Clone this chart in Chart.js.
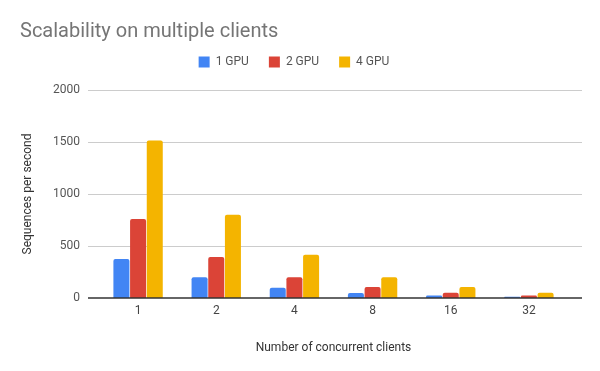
<!DOCTYPE html>
<html>
<head>
<meta charset="utf-8">
<script src="https://cdn.jsdelivr.net/npm/chart.js@4.4.1/dist/chart.umd.min.js"></script>
<style>
  html, body { margin: 0; padding: 0; background: #fff; }
  #wrap { width: 600px; height: 371px; position: relative; }
</style>
</head>
<body>
<div id="wrap"><canvas id="chart"></canvas></div>
<script>
  const categories = ["1", "2", "4", "8", "16", "32"];
  const gpu1 = [375, 200, 98, 48, 24, 12];
  const gpu2 = [760, 395, 200, 105, 50, 25];
  const gpu4 = [1515, 800, 415, 200, 105, 50];
  const yTicks = [0, 500, 1000, 1500, 2000];

  const PAD_LEFT = 20;
  const AREA_LEFT = 99;
  const AREA_BOTTOM = 298;

  // google-style gridlines run a bit wider than the bar area
  const wideGrid = {
    id: "wideGrid",
    beforeDatasetsDraw(chart) {
      const ctx = chart.ctx;
      const y = chart.scales.y;
      ctx.save();
      yTicks.forEach((v) => {
        if (v === 0) return;
        const py = Math.round(y.getPixelForValue(v)) + 0.5;
        ctx.beginPath();
        ctx.strokeStyle = "#cccccc";
        ctx.lineWidth = 1;
        ctx.moveTo(88, py);
        ctx.lineTo(582, py);
        ctx.stroke();
      });
      ctx.restore();
    },
    afterDatasetsDraw(chart) {
      const ctx = chart.ctx;
      const py = chart.scales.y.getPixelForValue(0);
      ctx.save();
      ctx.beginPath();
      ctx.strokeStyle = "#333333";
      ctx.lineWidth = 1.5;
      ctx.moveTo(88, py);
      ctx.lineTo(582, py);
      ctx.stroke();
      ctx.restore();
    }
  };

  function barSet(label, data, color) {
    return {
      label: label,
      data: data,
      backgroundColor: color,
      borderWidth: 0,
      borderRadius: { topLeft: 2, topRight: 2 },
      borderSkipped: "bottom",
      categoryPercentage: 0.64,
      barPercentage: 0.96
    };
  }

  new Chart(document.getElementById("chart").getContext("2d"), {
    type: "bar",
    data: {
      labels: categories,
      datasets: [
        barSet("1 GPU", gpu1, "#4285f4"),
        barSet("2 GPU", gpu2, "#db4437"),
        barSet("4 GPU", gpu4, "#f4b400")
      ]
    },
    plugins: [wideGrid],
    options: {
      responsive: true,
      maintainAspectRatio: false,
      animation: false,
      devicePixelRatio: 1,
      layout: { padding: { left: PAD_LEFT, right: 32, top: 0, bottom: 0 } },
      plugins: {
        title: {
          display: true,
          text: "Scalability on multiple clients",
          align: "start",
          color: "#757575",
          font: { family: "Roboto", size: 20, weight: "normal" },
          padding: { top: 20, bottom: -8 }
        },
        legend: {
          position: "top",
          labels: {
            boxWidth: 11,
            boxHeight: 11,
            padding: 20,
            color: "#555555",
            font: { family: "Roboto", size: 12 }
          }
        },
        tooltip: { enabled: false }
      },
      scales: {
        spacer: {
          type: "category",
          position: "top",
          grid: { display: false, drawTicks: false },
          border: { display: false },
          ticks: { display: false },
          afterFit(scale) {
            scale.height = 12;
          }
        },
        x: {
          grid: { display: false, drawTicks: false },
          border: { display: false },
          ticks: {
            color: "#444444",
            padding: 6,
            font: { family: "Roboto", size: 12 }
          },
          title: {
            display: true,
            text: "Number of concurrent clients",
            color: "#333333",
            font: { family: "Roboto", size: 12 },
            padding: { top: 0, bottom: 16 }
          },
          afterFit(scale) {
            scale.height = 371 - AREA_BOTTOM;
          }
        },
        y: {
          min: 0,
          max: 2000,
          afterBuildTicks(scale) {
            scale.ticks = yTicks.map((v) => ({ value: v }));
          },
          grid: { display: false, drawTicks: false },
          border: { display: false },
          ticks: {
            color: "#555555",
            padding: 19,
            font: { family: "Roboto", size: 12 },
            callback: (v) => String(v)
          },
          title: {
            display: true,
            text: "Sequences per second",
            color: "#333333",
            font: { family: "Roboto", size: 12 },
            padding: { top: 1, bottom: 0 }
          },
          afterFit(scale) {
            scale.width = AREA_LEFT - PAD_LEFT;
          }
        }
      }
    }
  });
</script>
</body>
</html>
